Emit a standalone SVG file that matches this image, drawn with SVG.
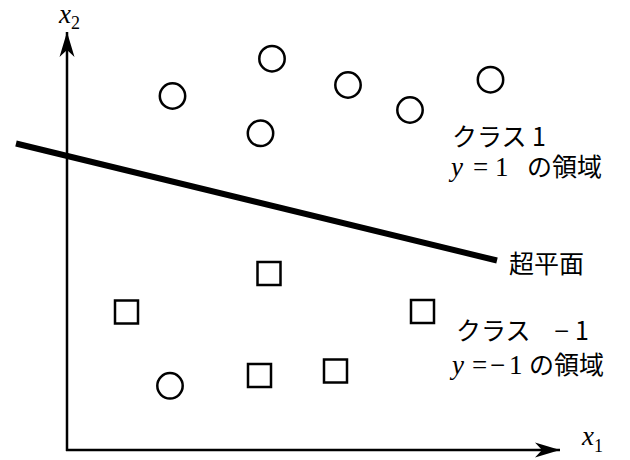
<svg xmlns="http://www.w3.org/2000/svg" width="630" height="460" viewBox="0 0 630 460">
<defs>
<marker id="arr" markerUnits="userSpaceOnUse" markerWidth="28" markerHeight="18" viewBox="-26 -9 28 18" refX="0" refY="0" orient="auto">
<path d="M0,0 L-25,-7.5 L-18,0 L-25,7.5 Z" fill="#000"/>
</marker>
<style>
.pt{fill:none;stroke:#000;stroke-width:2.5}
.jp{font-family:"Noto Sans CJK JP","Noto Sans",sans-serif;font-size:25px;fill:#000}
.m{font-family:"Liberation Serif",serif;font-size:27px;fill:#000}
.i{font-style:italic}
</style>
</defs>
<rect width="630" height="460" fill="#fff"/>
<g id="connectors">
<line id="x1-axis" x1="66" y1="450" x2="560" y2="450" stroke="#000" stroke-width="2.5" marker-end="url(#arr)"/>
<line id="x2-axis" x1="67" y1="451" x2="67" y2="32" stroke="#000" stroke-width="2.5" marker-end="url(#arr)"/>
<line id="hyperplane" x1="16" y1="143.5" x2="497" y2="260.5" stroke="#000" stroke-width="6"/>
</g>
<g id="class1-points">
<circle class="pt" cx="172.5" cy="96" r="12.7"/>
<circle class="pt" cx="272" cy="58.7" r="12.7"/>
<circle class="pt" cx="260.5" cy="133.3" r="12.7"/>
<circle class="pt" cx="348" cy="85" r="12.7"/>
<circle class="pt" cx="410" cy="110" r="12.7"/>
<circle class="pt" cx="490.5" cy="79.7" r="12.7"/>
<circle class="pt" cx="170" cy="385.8" r="12.7"/>
</g>
<g id="class-1-points">
<rect class="pt" x="257.5" y="262" width="23" height="23"/>
<rect class="pt" x="115" y="300.5" width="23" height="23"/>
<rect class="pt" x="411" y="300" width="23" height="23"/>
<rect class="pt" x="248" y="364" width="23" height="23"/>
<rect class="pt" x="324" y="359.5" width="23" height="23"/>
</g>
<g id="label-x2">
<text class="m i" x="59" y="23" font-size="25">x<tspan font-style="normal" font-size="18" dy="6">2</tspan></text>
</g>
<g id="label-x1">
<text class="m i" x="582" y="445" font-size="26">x<tspan font-style="normal" font-size="18" dy="7">1</tspan></text>
</g>
<g id="label-class1">
<text class="jp" x="452" y="146">クラス 1</text>
<text x="451" y="176"><tspan class="m i">y</tspan><tspan class="m" x="473">=</tspan><tspan class="m" x="495">1</tspan><tspan class="jp" x="527">の領域</tspan></text>
</g>
<g id="label-hyperplane">
<text class="jp" x="509" y="273" font-size="26">超平面</text>
</g>
<g id="label-class-1">
<text class="jp" x="456" y="340">クラス<tspan class="m" x="554" font-size="32">−</tspan><tspan x="575">1</tspan></text>
<text x="452" y="374"><tspan class="m i">y</tspan><tspan class="m" x="472">=</tspan><tspan class="m" x="490" font-size="29">−</tspan><tspan class="m" x="509" font-size="29">1</tspan><tspan class="jp" x="529">の領域</tspan></text>
</g>
</svg>
